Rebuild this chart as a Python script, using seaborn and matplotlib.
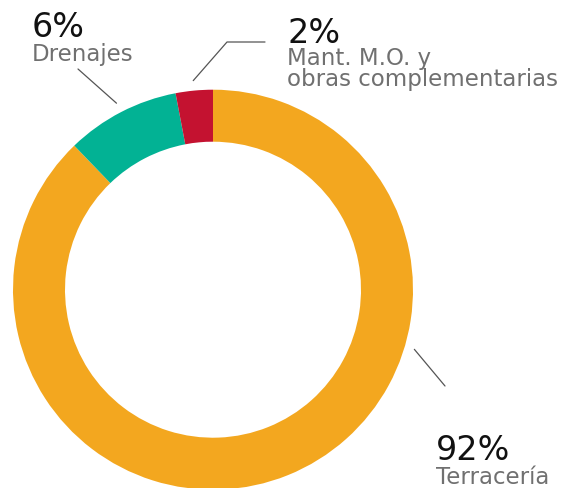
import matplotlib
matplotlib.use("Agg")
import matplotlib.pyplot as plt
import seaborn as sns
import numpy as np

# data (slice sizes as drawn, labels as printed)
categories = ["Terracería", "Drenajes", "Mant. M.O. y\nobras complementarias"]
slice_values = [87.8, 9.2, 3.0]
pct_labels = ["92%", "6%", "2%"]
colors = ["#F3A71F", "#02B294", "#C41230"]

sns.set_theme(style="white")
plt.rcParams['font.family'] = ['DejaVu Sans']

W, H = 565, 489
fig = plt.figure(figsize=(W / 100, H / 100), dpi=100)
ax = fig.add_axes([0, 0, 1, 1])

cx, cy, R = 213, H - 290.7, 200
wedges, _ = ax.pie(slice_values, colors=colors, startangle=90, counterclock=False,
                   center=(cx, cy), radius=R,
                   wedgeprops=dict(width=52, edgecolor="none"))
ax.set_xlim(0, W)
ax.set_ylim(0, H)
ax.set_aspect("equal")
ax.axis("off")

def px(x, y):
    return x, H - y

# leader lines: start just outside the ring, at an angle inside each wedge
def ring_point(theta_deg, r):
    t = np.deg2rad(theta_deg)
    return cx + r * np.cos(t), cy + r * np.sin(t)

# angles (matplotlib convention) where the leaders leave the ring
mid_small = [(w.theta1 + w.theta2) / 2 for w in wedges]
leader_angles = [-16.5, mid_small[1], mid_small[2]]
leader_ends = [[px(445, 387)], [px(78, 70)], [px(227, 43), px(265, 43)]]
for ang, ends in zip(leader_angles, leader_ends):
    x0, y0 = ring_point(ang, R + 10)
    xs = [x0] + [e[0] for e in ends]
    ys = [y0] + [e[1] for e in ends]
    ax.plot(xs, ys, color="#555555", lw=0.9)

# text positions (left x, baseline y of percentage, baseline y of first label line)
text_pos = [(436, 460, 484), (32, 37, 61), (287, 43, 65)]
for pct, cat, (tx, by1, by2) in zip(pct_labels, categories, text_pos):
    ax.text(*px(tx, by1), pct, fontsize=24, color="#111111", ha="left", va="baseline")
    for i, line in enumerate(cat.split("\n")):
        ax.text(*px(tx, by2 + i * 21), line, fontsize=16.5, color="#707070",
                ha="left", va="baseline")

fig.savefig("out.png", dpi=100)
